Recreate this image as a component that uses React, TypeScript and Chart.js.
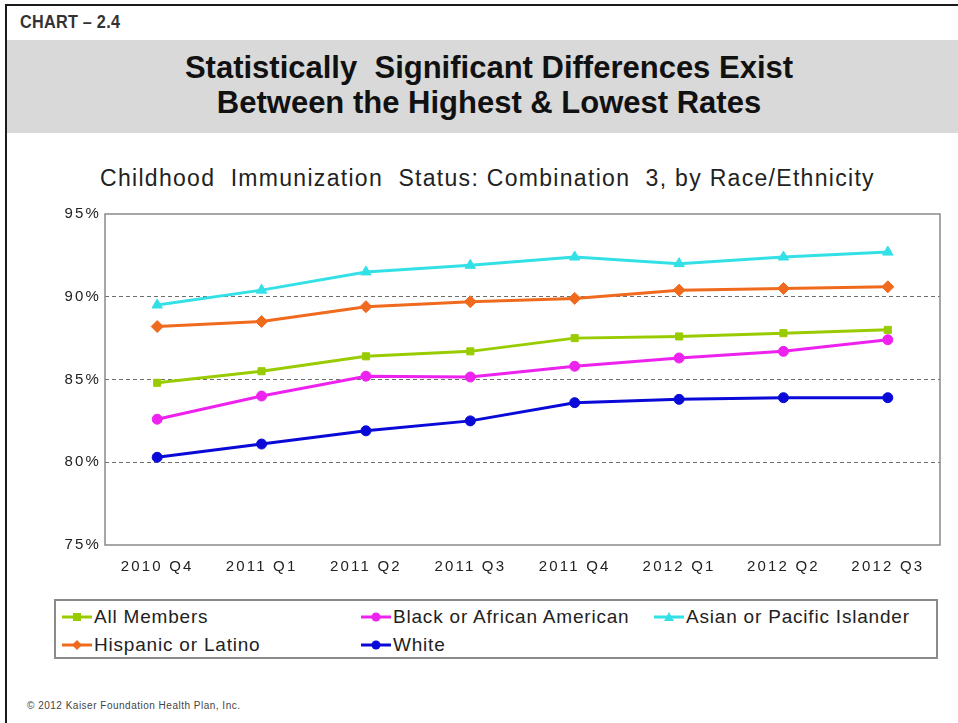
import React, { useEffect, useRef } from "react";
import { Chart, registerables } from "chart.js";

Chart.register(...registerables);

const categories = ["2010 Q4", "2011 Q1", "2011 Q2", "2011 Q3", "2011 Q4", "2012 Q1", "2012 Q2", "2012 Q3"];
const allMembers = [84.8, 85.5, 86.4, 86.7, 87.5, 87.6, 87.8, 88.0];
const blackAfricanAmerican = [82.6, 84.0, 85.2, 85.15, 85.8, 86.3, 86.7, 87.4];
const asianPacificIslander = [89.5, 90.4, 91.5, 91.9, 92.4, 92.0, 92.4, 92.7];
const hispanicLatino = [88.2, 88.5, 89.4, 89.7, 89.9, 90.4, 90.5, 90.6];
const white = [80.3, 81.1, 81.9, 82.5, 83.6, 83.8, 83.9, 83.9];
const yTicks = [75, 80, 85, 90, 95];

const series = [
  { label: "All Members", data: allMembers, color: "#99CC00", shape: "rect", radius: 5 },
  { label: "Black or African American", data: blackAfricanAmerican, color: "#EE22EE", shape: "circle", radius: 5 },
  { label: "Asian or Pacific Islander", data: asianPacificIslander, color: "#33E0E6", shape: "triangle", radius: 6 },
  { label: "Hispanic or Latino", data: hispanicLatino, color: "#F06A1E", shape: "rectRot", radius: 6 },
  { label: "White", data: white, color: "#0A0AD8", shape: "circle", radius: 5 },
];

const legendPos = [
  { x: 62, y: 617 },
  { x: 361, y: 617 },
  { x: 654, y: 617 },
  { x: 62, y: 645 },
  { x: 361, y: 645 },
];

const sans = '"Liberation Sans", Arial, sans-serif';

function Marker({ shape, color }: { shape: string; color: string }) {
  let m: any = null;
  if (shape === "rect") m = <rect x={11} y={5} width={8} height={8} fill={color} />;
  else if (shape === "circle") m = <circle cx={15} cy={9} r={4.5} fill={color} />;
  else if (shape === "triangle") m = <polygon points="15,4 20,13 10,13" fill={color} />;
  else m = <polygon points="15,4 20,9 15,14 10,9" fill={color} />;
  return (
    <svg width={30} height={18} style={{ display: "block" }}>
      <line x1={0} y1={9} x2={30} y2={9} stroke={color} strokeWidth={3} />
      {m}
    </svg>
  );
}

export default function App() {
  const ref = useRef<HTMLCanvasElement>(null);
  useEffect(() => {
    if (!ref.current) return;
    const frame = {
      id: "frame",
      beforeDraw(chart: any) {
        chart.ctx.letterSpacing = "2.2px";
      },
      beforeDatasetsDraw(chart: any) {
        chart.ctx.letterSpacing = "0px";
        const { ctx, chartArea: a } = chart;
        ctx.save();
        ctx.strokeStyle = "#8a8a8a";
        ctx.lineWidth = 1.5;
        ctx.strokeRect(a.left, a.top, a.right - a.left, a.bottom - a.top);
        ctx.restore();
      },
    };
    const chart = new Chart(ref.current, {
      type: "line",
      data: {
        labels: categories,
        datasets: series.map((s) => ({
          label: s.label,
          data: s.data,
          borderColor: s.color,
          backgroundColor: s.color,
          borderWidth: 3,
          pointStyle: s.shape as any,
          pointRadius: s.radius,
          pointBorderWidth: 1,
          tension: 0,
          fill: false,
        })),
      },
      options: {
        animation: false,
        responsive: false,
        devicePixelRatio: 1,
        layout: { padding: { top: 24, right: 18, left: 0, bottom: 0 } },
        plugins: { legend: { display: false }, title: { display: false }, tooltip: { enabled: false } },
        scales: {
          x: {
            offset: true,
            grid: { display: false, drawTicks: false },
            border: { display: false },
            ticks: { color: "#222", font: { family: sans, size: 15 }, padding: 13, maxRotation: 0 },
            afterFit: (s: any) => { s.height = 45; },
          },
          y: {
            min: 75,
            max: 95,
            afterBuildTicks: (s: any) => { s.ticks = yTicks.map((v) => ({ value: v })); },
            grid: {
              drawTicks: false,
              color: (c: any) => (c.tick && c.tick.value > 75 && c.tick.value < 95 ? "#6e6e6e" : "rgba(0,0,0,0)"),
              lineWidth: 1,
            },
            border: { display: false, dash: [4, 3] },
            ticks: {
              color: "#222",
              font: { family: sans, size: 15 },
              padding: 4,
              callback: (v: any) => v + "%",
            },
            afterFit: (s: any) => { s.width = 105; },
          },
        },
      },
      plugins: [frame],
    });
    return () => chart.destroy();
  }, []);

  return (
    <div style={{ position: "fixed", left: 0, top: 0, width: 958, height: 723, background: "#fff", overflow: "hidden" }}>
      <div style={{ position: "absolute", left: 5, top: 4, width: 953, height: 2, background: "#1a1a1a" }} />
      <div style={{ position: "absolute", left: 5, top: 4, width: 2, height: 719, background: "#1a1a1a" }} />
      <div style={{ position: "absolute", left: 20, top: 10, fontFamily: sans, fontWeight: "bold", fontSize: 18, color: "#333", lineHeight: "24px", whiteSpace: "nowrap", transform: "scaleX(0.9)", transformOrigin: "0 50%", letterSpacing: "0.3px" }}>
        CHART – 2.4
      </div>
      <div style={{ position: "absolute", left: 7, top: 40, width: 951, height: 93, background: "#d9d9d9" }} />
      <div style={{ position: "absolute", left: 0, top: 50, width: 978, textAlign: "center", fontFamily: sans, fontWeight: "bold", fontSize: 31, lineHeight: "35px", color: "#111" }}>
        <div>Statistically&nbsp; Significant Differences Exist</div>
        <div>Between the Highest &amp; Lowest Rates</div>
      </div>
      <div style={{ position: "absolute", left: 100, top: 164, fontFamily: sans, fontSize: 23, lineHeight: "28px", color: "#222", whiteSpace: "pre", letterSpacing: "1.3px" }}>
        {"Childhood  Immunization  Status: Combination  3, by Race/Ethnicity"}
      </div>
      <canvas ref={ref} width={958} height={400} style={{ position: "absolute", left: 0, top: 190, width: 958, height: 400 }} />
      <div style={{ position: "absolute", left: 54, top: 599, width: 880, height: 56, border: "2px solid #8a8a8a" }} />
      {series.map((s, i) => (
        <div key={s.label} style={{ position: "absolute", left: legendPos[i].x, top: legendPos[i].y - 12, height: 24, display: "flex", alignItems: "center", fontFamily: sans, fontSize: 19, color: "#222", letterSpacing: "0.8px", whiteSpace: "nowrap" }}>
          <Marker shape={s.shape} color={s.color} />
          <span style={{ marginLeft: 2 }}>{s.label}</span>
        </div>
      ))}
      <div style={{ position: "absolute", left: 27, top: 700, fontFamily: sans, fontSize: 10, color: "#444", letterSpacing: "0.5px" }}>
        © 2012 Kaiser Foundation Health Plan, Inc.
      </div>
    </div>
  );
}
